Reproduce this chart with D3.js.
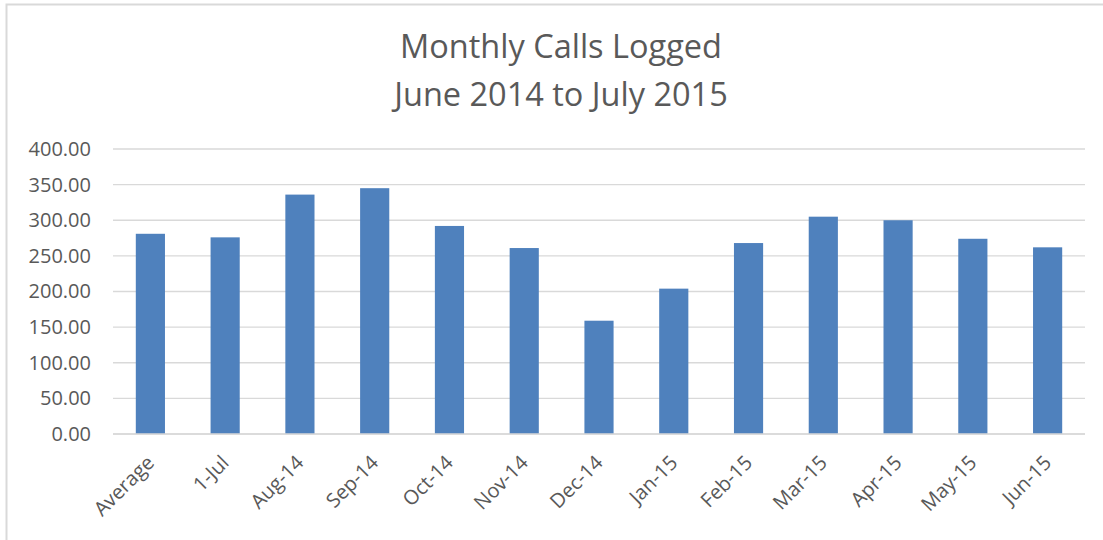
<!DOCTYPE html>
<html><head><meta charset="utf-8">
<script src="https://cdn.jsdelivr.net/npm/d3@7"></script>
<style>body{margin:0;background:#fff}svg{display:block}</style>
</head><body>
<svg id="chart" width="1103" height="540"></svg>
<script>
const categories = ["Average","1-Jul","Aug-14","Sep-14","Oct-14","Nov-14","Dec-14","Jan-15","Feb-15","Mar-15","Apr-15","May-15","Jun-15"];
const values = [281, 276, 336, 345, 292, 261, 159, 204, 268, 305, 300, 274, 262];
const yTicks = [0, 50, 100, 150, 200, 250, 300, 350, 400];
const titleLines = ["Monthly Calls Logged", "June 2014 to July 2015"];

(function () {
const svg = d3.select("#chart");
const font = "Open Sans, sans-serif";
const textColor = "#595959";

// chart border (top and left visible)
svg.append("rect").attr("x", 6.5).attr("y", 4.5).attr("width", 1110).attr("height", 560)
  .attr("fill", "#fff").attr("stroke", "#d9d9d9").attr("stroke-width", 2);

const pLeft = 113, pRight = 1085, pTop = 149, pBottom = 434;
const x = d3.scaleBand().domain(categories).range([pLeft, pRight]).paddingInner(0.61).paddingOuter(0.305);
const y = d3.scaleLinear().domain([0, 400]).range([pBottom, pTop]);

// gridlines
svg.append("g").selectAll("line").data(yTicks).join("line")
  .attr("x1", pLeft).attr("x2", pRight)
  .attr("y1", d => y(d)).attr("y2", d => y(d))
  .attr("stroke", "#d9d9d9").attr("stroke-width", 1.3);

// bars
svg.append("g").selectAll("rect").data(values).join("rect")
  .attr("x", (d, i) => x(categories[i]))
  .attr("width", x.bandwidth())
  .attr("y", d => y(d))
  .attr("height", d => y(0) - y(d))
  .attr("fill", "#4f81bd");

// y axis
const yAxis = d3.axisLeft(y).tickValues(yTicks).tickFormat(d3.format(".2f")).tickSize(0).tickPadding(0);
const gy = svg.append("g").attr("transform", `translate(91,0)`).call(yAxis);
gy.select(".domain").remove();
gy.selectAll("text").attr("font-family", font).attr("font-size", 20).attr("fill", textColor);

// x axis
const xAxis = d3.axisBottom(x).tickSize(0).tickPadding(0);
const gx = svg.append("g").attr("transform", `translate(0,${pBottom})`).call(xAxis);
gx.select(".domain").attr("stroke", "#d9d9d9").attr("stroke-width", 1.3).attr("d", `M${pLeft},0H${pRight}`);
gx.selectAll("text")
  .attr("font-family", font).attr("font-size", 20).attr("fill", textColor)
  .attr("text-anchor", "end").attr("dy", null).attr("y", 0)
  .attr("transform", "translate(5,30) rotate(-45)");

// title
svg.append("g").selectAll("text").data(titleLines).join("text")
  .attr("x", 561).attr("y", (d, i) => 58 + i * 48)
  .attr("text-anchor", "middle")
  .attr("font-family", font).attr("font-size", 32.5).attr("fill", textColor)
  .text(d => d);
})();
</script>
</body></html>
